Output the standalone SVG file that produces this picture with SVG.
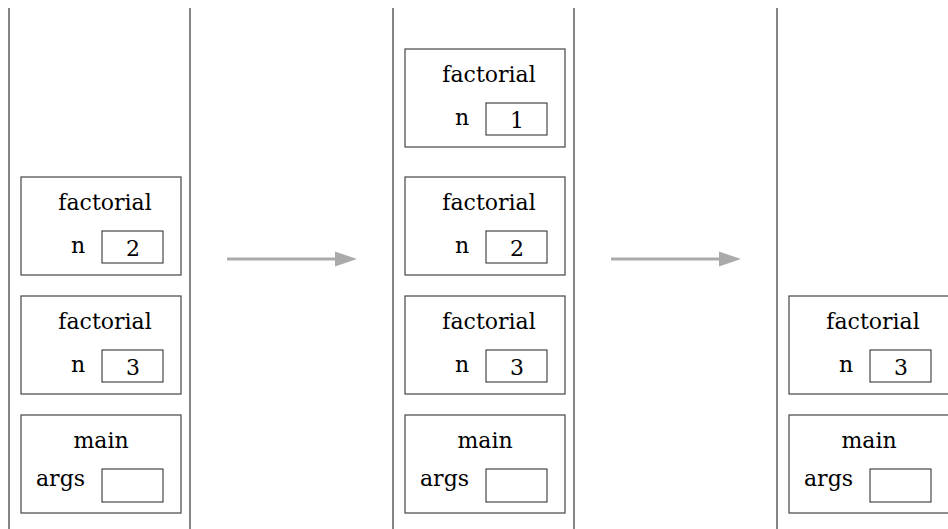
<svg xmlns="http://www.w3.org/2000/svg" width="948" height="529" viewBox="0 0 948 529">
<style>
.wall{stroke:#444;stroke-width:1.3;fill:none}
.frame{fill:#fff;stroke:#444;stroke-width:1.2}
.val{fill:#fff;stroke:#222;stroke-width:1}
.c{text-anchor:middle}
.arrow{stroke:#aaa;stroke-width:3;fill:none}
</style>
<defs>
<g id="fact">
<rect class="frame" x="12" y="0" width="160" height="98"/>
<text class="c" x="96" y="33">factorial</text>
<text class="c" x="69" y="76">n</text>
<rect class="val" x="93" y="54" width="61" height="32"/>
</g>
<g id="mainframe">
<rect class="frame" x="12" y="0" width="160" height="98"/>
<text class="c" x="92" y="33">main</text>
<text x="27" y="71">args</text>
<rect class="val" x="93" y="54" width="61" height="33"/>
</g>
</defs>
<g id="walls">
<line class="wall" x1="9" y1="8" x2="9" y2="529"/>
<line class="wall" x1="190" y1="8" x2="190" y2="529"/>
<line class="wall" x1="393" y1="8" x2="393" y2="529"/>
<line class="wall" x1="574" y1="8" x2="574" y2="529"/>
<line class="wall" x1="777" y1="8" x2="777" y2="529"/>
</g>
<g font-family="'DejaVu Serif', serif" font-size="22" fill="#000">
<g id="stack1">
<g id="s1-fact2" transform="translate(9,177)"><use href="#fact"/><text class="c" x="124" y="79">2</text></g>
<g id="s1-fact3" transform="translate(9,296)"><use href="#fact"/><text class="c" x="124" y="79">3</text></g>
<g id="s1-main" transform="translate(9,415)"><use href="#mainframe"/></g>
</g>
<g id="stack2">
<g id="s2-fact1" transform="translate(393,49)"><use href="#fact"/><text class="c" x="124" y="79">1</text></g>
<g id="s2-fact2" transform="translate(393,177)"><use href="#fact"/><text class="c" x="124" y="79">2</text></g>
<g id="s2-fact3" transform="translate(393,296)"><use href="#fact"/><text class="c" x="124" y="79">3</text></g>
<g id="s2-main" transform="translate(393,415)"><use href="#mainframe"/></g>
</g>
<g id="stack3">
<g id="s3-fact3" transform="translate(777,296)"><use href="#fact"/><text class="c" x="124" y="79">3</text></g>
<g id="s3-main" transform="translate(777,415)"><use href="#mainframe"/></g>
</g>
</g>
<g id="connectors">
<line class="arrow" x1="227" y1="259" x2="337" y2="259"/>
<path d="M335,251.5 L357,259 L335,266.5 Z" fill="#aaa"/>
<line class="arrow" x1="611" y1="259" x2="721" y2="259"/>
<path d="M719,251.5 L741,259 L719,266.5 Z" fill="#aaa"/>
</g>
</svg>
